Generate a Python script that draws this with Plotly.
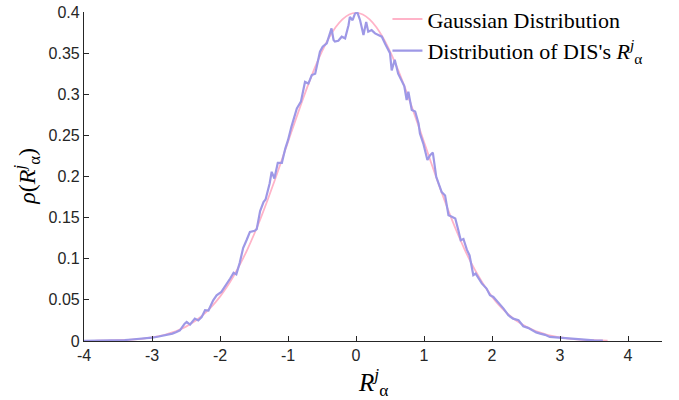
import plotly.graph_objects as go

# ---- data ----
gauss_x = [-4.0, -3.9, -3.8, -3.7, -3.6, -3.5, -3.4, -3.3, -3.2, -3.1, -3.0, -2.9, -2.8, -2.7, -2.6,
           -2.5, -2.4, -2.3, -2.2, -2.1, -2.0, -1.9, -1.8, -1.7, -1.6, -1.5, -1.4, -1.3, -1.2, -1.1,
           -1.0, -0.9, -0.8, -0.7, -0.6, -0.5, -0.4, -0.3, -0.2, -0.1, 0.0, 0.1, 0.2, 0.3, 0.4, 0.5,
           0.6, 0.7, 0.8, 0.9, 1.0, 1.1, 1.2, 1.3, 1.4, 1.5, 1.6, 1.7, 1.8, 1.9, 2.0, 2.1, 2.2, 2.3,
           2.4, 2.5, 2.6, 2.7, 2.8, 2.9, 3.0, 3.1, 3.2, 3.3, 3.4, 3.5, 3.6, 3.7]
gauss_y = [0.0001, 0.0002, 0.0003, 0.0004, 0.0006, 0.0009, 0.0012, 0.0017, 0.0024, 0.0033, 0.0044,
           0.0060, 0.0079, 0.0104, 0.0136, 0.0175, 0.0224, 0.0283, 0.0355, 0.0440, 0.0540, 0.0656,
           0.0790, 0.0940, 0.1109, 0.1295, 0.1497, 0.1714, 0.1942, 0.2179, 0.2420, 0.2661, 0.2897,
           0.3123, 0.3332, 0.3521, 0.3683, 0.3814, 0.3910, 0.3970, 0.3989, 0.3970, 0.3910, 0.3814,
           0.3683, 0.3521, 0.3332, 0.3123, 0.2897, 0.2661, 0.2420, 0.2179, 0.1942, 0.1714, 0.1497,
           0.1295, 0.1109, 0.0940, 0.0790, 0.0656, 0.0540, 0.0440, 0.0355, 0.0283, 0.0224, 0.0175,
           0.0136, 0.0104, 0.0079, 0.0060, 0.0044, 0.0033, 0.0024, 0.0017, 0.0012, 0.0009, 0.0006,
           0.0004]

dis_x = [-4.0, -3.8, -3.6, -3.4, -3.3, -3.2, -3.1, -3.0, -2.9, -2.78, -2.7, -2.64, -2.59, -2.52,
         -2.49, -2.44, -2.40, -2.37, -2.32, -2.27, -2.22, -2.17, -2.10, -2.05, -1.98, -1.93, -1.85,
         -1.80, -1.76, -1.71, -1.68, -1.66, -1.61, -1.56, -1.49, -1.46, -1.41, -1.36, -1.33, -1.27,
         -1.24, -1.20, -1.15, -1.09, -1.04, -1.00, -0.95, -0.87, -0.81, -0.75, -0.70, -0.65, -0.60,
         -0.53, -0.49, -0.43, -0.36, -0.33, -0.31, -0.26, -0.21, -0.16, -0.11, -0.09, -0.05, -0.015,
         0.02, 0.06, 0.11, 0.15, 0.18, 0.23, 0.28, 0.33, 0.38, 0.43, 0.475, 0.50, 0.525, 0.57, 0.62,
         0.67, 0.71, 0.745, 0.77, 0.82, 0.87, 0.92, 0.94, 0.99, 1.05, 1.09, 1.13, 1.18, 1.21, 1.26,
         1.31, 1.36, 1.41, 1.46, 1.505, 1.54, 1.58, 1.63, 1.67, 1.70, 1.725, 1.76, 1.80, 1.85, 1.92,
         1.97, 2.02, 2.09, 2.17, 2.24, 2.31, 2.39, 2.46, 2.53, 2.61, 2.65, 2.71, 2.78, 2.85, 2.92,
         3.0, 3.1, 3.2, 3.3, 3.4, 3.5, 3.63]
dis_y = [0.0001, 0.0003, 0.0005, 0.0012, 0.0018, 0.0025, 0.0031, 0.0040, 0.0055, 0.0072, 0.0090,
         0.0110, 0.0130, 0.0210, 0.0231, 0.0200, 0.0240, 0.0272, 0.0250, 0.0290, 0.0374, 0.0370,
         0.0495, 0.0556, 0.0597, 0.0657, 0.0760, 0.0830, 0.0810, 0.0950, 0.1040, 0.1130, 0.1225,
         0.1327, 0.1340, 0.1360, 0.1580, 0.1690, 0.1720, 0.1915, 0.2057, 0.1976, 0.2166, 0.2166,
         0.2340, 0.2442, 0.2604, 0.2828, 0.2910, 0.3150, 0.3130, 0.3233, 0.3250, 0.3517, 0.3578,
         0.3620, 0.3800, 0.3660, 0.3640, 0.3650, 0.3700, 0.3680, 0.3840, 0.3940, 0.3900, 0.3980,
         0.3996, 0.3900, 0.3720, 0.3880, 0.3760, 0.3780, 0.3740, 0.3720, 0.3700, 0.3610, 0.3550,
         0.3500, 0.3290, 0.3420, 0.3250, 0.3170, 0.3100, 0.2930, 0.3030, 0.2810, 0.2790, 0.2645,
         0.2524, 0.2400, 0.2200, 0.2260, 0.2290, 0.1996, 0.1935, 0.1810, 0.1770, 0.1530, 0.1510,
         0.1490, 0.1347, 0.1225, 0.1240, 0.1110, 0.1040, 0.0900, 0.0800, 0.0820, 0.0760, 0.0700,
         0.0637, 0.0556, 0.0535, 0.0475, 0.0394, 0.0313, 0.0272, 0.0252, 0.0179, 0.0160, 0.0118,
         0.0105, 0.0090, 0.0075, 0.0050, 0.0045, 0.0035, 0.0028, 0.0020, 0.0014, 0.0010, 0.0007,
         0.0004]

x_tick_vals = [-4, -3, -2, -1, 0, 1, 2, 3, 4]
x_tick_text = ['-4', '-3', '-2', '-1', '0', '1', '2', '3', '4']
y_tick_vals = [0, 0.05, 0.1, 0.15, 0.2, 0.25, 0.3, 0.35, 0.4]
y_tick_text = ['0', '0.05', '0.1', '0.15', '0.2', '0.25', '0.3', '0.35', '0.4']

series_names = ['Gaussian Distribution',
                "Distribution of DIS's <i>R</i><sup><i>j</i></sup><sub>α</sub>"]

PINK = '#ffb3c8'
PURPLE = '#9e98e6'
AXC = '#262626'

fig = go.Figure()
fig.add_trace(go.Scatter(x=gauss_x, y=gauss_y, mode='lines', name=series_names[0],
                         line=dict(color=PINK, width=1.8, shape='spline')))
fig.add_trace(go.Scatter(x=dis_x, y=dis_y, mode='lines', name=series_names[1],
                         line=dict(color=PURPLE, width=2.2)))

axis_common = dict(showline=True, linecolor=AXC, linewidth=1.2, ticks='inside', ticklen=5,
                   tickwidth=1.2, tickcolor=AXC, showgrid=False, zeroline=False, mirror=False,
                   tickfont=dict(family='Liberation Sans, Arial, sans-serif', size=16, color=AXC))

fig.update_xaxes(range=[-4, 4.5], tickmode='array', tickvals=x_tick_vals, ticktext=x_tick_text,
                 **axis_common)
fig.update_yaxes(range=[0, 0.4], tickmode='array', tickvals=y_tick_vals, ticktext=y_tick_text,
                 **axis_common)

fig.update_layout(
    width=679, height=400,
    margin=dict(l=84, r=17, t=12, b=59, autoexpand=False),
    paper_bgcolor='white', plot_bgcolor='white',
    showlegend=True,
    legend=dict(x=0.525, y=1.042, xanchor='left', yanchor='top', bgcolor='rgba(0,0,0,0)',
                font=dict(family='Liberation Serif, Times New Roman, serif', size=22, color='black'),
                itemwidth=30, tracegroupgap=0),
    annotations=[
        dict(text='<i>R</i><sup><i>j</i></sup><sub>α</sub>', xref='paper', yref='paper',
             x=0.5, y=-0.125, xanchor='center', yanchor='middle', showarrow=False,
             font=dict(family='Liberation Serif, Times New Roman, serif', size=25, color='black')),
        dict(text='<i>ρ</i>(<i>R</i><sup><i>j</i></sup><sub>α</sub>)', xref='paper', yref='paper',
             x=-0.1, y=0.5, xanchor='center', yanchor='middle', showarrow=False, textangle=-90,
             font=dict(family='Liberation Serif, Times New Roman, serif', size=24, color='black')),
    ],
)

fig.write_html('out.html')
